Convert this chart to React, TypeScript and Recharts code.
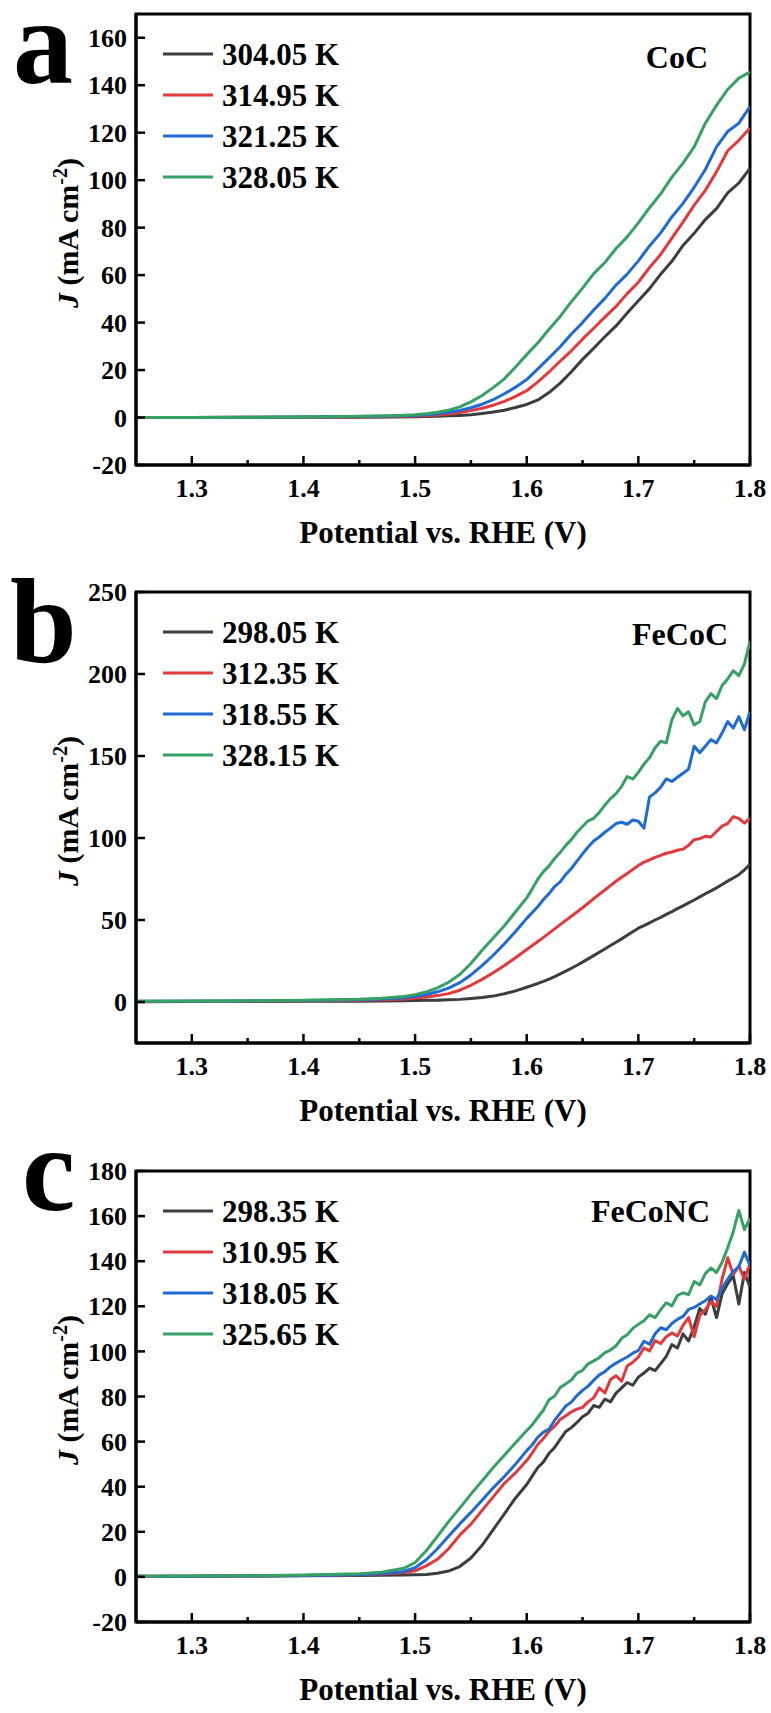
import React from "react";
import { LineChart, Line, XAxis, YAxis, ReferenceArea, Legend } from "recharts";

const W = 771;
const H = 578;
const FONT = "Liberation Serif, Tinos, Times New Roman, DejaVu Serif, Noto Serif, serif";
const COLORS = ["#3d3d3d", "#e23a3c", "#1f6bd3", "#37a064"];
const X_TICKS = [1.3, 1.35, 1.4, 1.45, 1.5, 1.55, 1.6, 1.65, 1.7, 1.75, 1.8];

// ---- panel a: CoC ----
const xA = [
  1.25, 1.3, 1.35, 1.4, 1.45, 1.48, 1.5, 1.51, 1.52, 1.53, 1.54, 1.55, 1.56, 1.57, 1.58, 1.59, 1.6,
  1.61, 1.62, 1.63, 1.64, 1.65, 1.66, 1.67, 1.68, 1.69, 1.7, 1.71, 1.72, 1.73, 1.74, 1.75, 1.76,
  1.77, 1.78, 1.79, 1.8,
];
const namesA = ["304.05 K", "314.95 K", "321.25 K", "328.05 K"];
const a304 = [
  0, 0, 0, 0.1, 0.1, 0.2, 0.3, 0.4, 0.5, 0.7, 0.9, 1.2, 1.7, 2.3, 3.1, 4.2, 5.5,
  7.4, 10.5, 14.5, 19.3, 24.5, 29.2, 34, 38.6, 44, 49.2, 54.3, 60.4, 65.8, 72.5, 77.6, 83.4,
  88, 94.6, 98.8, 105,
];
const a314 = [
  0, 0, 0.1, 0.1, 0.2, 0.4, 0.6, 0.8, 1.1, 1.5, 2.1, 2.9, 3.9, 5.2, 6.8, 8.9, 11.3,
  15, 19.2, 23.8, 28.1, 33, 37.6, 42.3, 46.8, 52.2, 57, 63.2, 68.7, 75.6, 82.3, 89.5, 95.7,
  103.5, 112.4, 116.8, 122,
];
const a321 = [
  0, 0, 0.1, 0.2, 0.4, 0.6, 0.9, 1.2, 1.6, 2.2, 3.0, 4.1, 5.6, 7.5, 10, 12.8, 16,
  20.5, 25.1, 29.8, 35.2, 40, 45.3, 50.2, 55.8, 60.4, 66, 72.3, 77.8, 84.5, 90.2, 97, 104.5,
  114, 120.5, 124, 131,
];
const a328 = [
  0, 0, 0.1, 0.2, 0.5, 0.8, 1.2, 1.6, 2.2, 3.1, 4.5, 6.6, 9.3, 12.6, 16.3, 21.3, 26.5,
  31.5, 37.2, 42.6, 48.8, 54.5, 60.6, 65.3, 71.2, 76.1, 82, 88.4, 94.2, 101.3, 107.2, 114, 124,
  131.5, 138.2, 143, 145.5,
];

// ---- panels b and c share the potential grid ----
const xBC = [
  1.25, 1.3, 1.35, 1.4, 1.45, 1.47, 1.49,
  1.5, 1.51, 1.52, 1.53, 1.54, 1.55, 1.56, 1.57, 1.58, 1.59, 1.6,
  1.605, 1.61, 1.615, 1.62, 1.625, 1.63, 1.635, 1.64, 1.645, 1.65,
  1.655, 1.66, 1.665, 1.67, 1.675, 1.68, 1.685, 1.69, 1.695, 1.7,
  1.705, 1.71, 1.715, 1.72, 1.725, 1.73, 1.735, 1.74, 1.745, 1.75,
  1.755, 1.76, 1.765, 1.77, 1.775, 1.78, 1.785, 1.79, 1.795, 1.8,
];

// panel b: FeCoC
const namesB = ["298.05 K", "312.35 K", "318.55 K", "328.15 K"];
const b298 = [
  0.2, 0.3, 0.3, 0.4, 0.5, 0.6, 0.8,
  0.9, 1.0, 1.1, 1.3, 1.6, 2.1, 2.7, 3.6, 5.0, 6.8, 9.0,
  10.1, 11.3, 12.6, 14, 15.5, 17.1, 18.8, 20.6, 22.4, 24.3,
  26.3, 28.3, 30.3, 32.3, 34.4, 36.4, 38.5, 40.7, 42.9, 45,
  46.6, 48.3, 50, 51.6, 53.4, 55.1, 56.9, 58.6, 60.4, 62.2,
  64.1, 66, 67.8, 69.6, 71.6, 73.7, 75.6, 77.6, 80.6, 84,
];
const b312 = [
  0.3, 0.4, 0.5, 0.7, 1.0, 1.3, 1.8,
  2.4, 3.0, 3.9, 5.1, 7.2, 10.2, 13.8, 17.8, 22.3, 27, 32,
  34.4, 36.9, 39.4, 42, 44.6, 47.2, 49.8, 52.3, 54.9, 57.5,
  60.2, 63, 65.7, 68.3, 71, 73.6, 76.1, 78.4, 80.8, 83.2,
  85.3, 86.6, 88.2, 89.4, 90.7, 91.5, 92.5, 93.2, 95.5, 99,
  99.6, 101, 100.6, 104, 107.2, 108.8, 113, 112, 109, 112,
];
const b318 = [
  0.4, 0.5, 0.6, 0.9, 1.4, 1.8, 2.6,
  3.5, 4.6, 6.2, 8.5, 11.8, 16.5, 22.2, 28.5, 35.5, 43, 51,
  54.6, 58.2, 62.5, 66.1, 70.4, 73.2, 77.8, 81.4, 85.9, 90.3,
  94.5, 98.2, 100.6, 103.5, 106, 108.8, 109.6, 108.4, 111, 110.2,
  106, 125, 127.5, 131, 136, 134.5, 137, 139.5, 142, 156,
  152, 156, 160, 158, 164, 171, 167, 174, 166, 177,
];
const b328 = [
  0.5, 0.6, 0.8, 1.1, 1.7, 2.3, 3.4,
  4.5, 6.2, 8.6, 12, 16.8, 23.5, 31.5, 39, 46.5, 55, 63.5,
  69, 75, 79.5, 83, 87.5, 91.2, 95.5, 99, 103.5, 107,
  110.5, 112, 115.6, 120, 124, 127, 131.5, 137.5, 136, 140,
  145, 149, 155, 159, 158, 172, 179, 174.5, 177, 169,
  171, 183, 188, 185, 193, 197, 202, 199, 206, 220,
];

// panel c: FeCoNC
const namesC = ["298.35 K", "310.95 K", "318.05 K", "325.65 K"];
const c298 = [
  0.3, 0.3, 0.4, 0.5, 0.6, 0.7, 0.8,
  0.9, 1.1, 1.6, 2.6, 4.6, 8.4, 14, 21, 28, 35, 41,
  44.8, 48.5, 51, 54.8, 57.4, 61, 64.5, 66.2, 68.5, 71,
  72.6, 76, 75.2, 78.8, 77.6, 81.5, 83.8, 86.2, 85, 88.6,
  90.4, 92.6, 91.5, 94.6, 97.8, 103, 101.5, 107.8, 104.6, 111,
  119, 116.5, 124, 115, 125.5, 130, 133.5, 121, 135, 128.6,
];
const c310 = [
  0.3, 0.3, 0.4, 0.6, 0.9, 1.3, 1.9,
  2.7, 4.9, 7.8, 12.5, 18.5, 23.4, 29.5, 35.5, 41.5, 46.2, 51.6,
  55, 58.8, 61.4, 64.6, 66.8, 69.8, 71.5, 73.2, 74.4, 75.2,
  77.6, 79.5, 83.8, 81.6, 87.5, 89.2, 86.8, 93.5, 95.2, 97.5,
  101.5, 100.2, 104.8, 103.5, 106.5, 108.2, 106.8, 111.5, 115, 106.5,
  116, 118.5, 122, 120, 132, 141.5, 134, 138, 132, 139,
];
const c318 = [
  0.2, 0.3, 0.4, 0.6, 1.0, 1.5, 2.4,
  4.1, 7.6, 12.5, 18, 23.5, 28.6, 34, 39.5, 44.5, 50, 56,
  58.6, 62, 64.2, 65.5, 69.5, 72.6, 75.8, 77.5, 80.4, 82.7,
  84.6, 87.2, 89.6, 91, 93.2, 94.8, 96.2, 97.5, 99.2, 100.4,
  104.5, 103.2, 107.8, 110.5, 109.6, 112.4, 114.2, 115.5, 118.6, 119.5,
  121, 122.5, 124.5, 123, 128, 132, 135.5, 137.5, 144, 138,
];
const c325 = [
  0.3, 0.4, 0.5, 0.8, 1.4, 2.1, 3.8,
  6.4, 11.6, 18, 24.5, 30.5, 36.7, 42.5, 48.5, 54, 59.5, 64.9,
  67.5, 70.8, 74, 78.6, 80.2, 84, 85.6, 87.3, 90.4, 91.6,
  94.5, 95.8, 97.2, 99.5, 100.6, 102.5, 105.8, 107.4, 110.2, 112,
  113.6, 116.2, 115, 118.5, 121.6, 120.2, 124.8, 126, 125.2, 131,
  129.5, 134.5, 137, 135, 139.5, 146, 153, 162.5, 154, 159,
];

function XTick(props: any) {
  const { x, y, payload } = props;
  const major = Math.round(payload.value * 100) % 10 === 0;
  return (
    <g>
      <line x1={x} x2={x} y1={y} y2={y - (major ? 9 : 5)} stroke="#000" strokeWidth={2.5} />
      {major && (
        <text x={x} y={y + 32} textAnchor="middle" style={{ fontFamily: FONT }} fontWeight={700} fontSize={26} fill="#000">
          {payload.value.toFixed(1)}
        </text>
      )}
    </g>
  );
}

function YTick(props: any) {
  const { x, y, payload } = props;
  return (
    <g>
      <line x1={x} x2={x + 9} y1={y} y2={y} stroke="#000" strokeWidth={2.5} />
      <text x={x - 9} y={y} dy="0.35em" textAnchor="end" style={{ fontFamily: FONT }} fontWeight={700} fontSize={26} fill="#000">
        {payload.value}
      </text>
    </g>
  );
}

function XTitle(props: any) {
  const vb = props.viewBox && props.viewBox.width ? props.viewBox : { x: 136, y: 465, width: 614 };
  return (
    <text x={vb.x + vb.width / 2} y={vb.y + 78} textAnchor="middle" style={{ fontFamily: FONT }} fontWeight={700} fontSize={31} fill="#000">
      Potential vs. RHE (V)
    </text>
  );
}

function YTitle(props: any) {
  const vb = props.viewBox && props.viewBox.height ? props.viewBox : { x: 0, y: 14, height: 451 };
  const cx = 78;
  const cy = vb.y + 219;
  return (
    <text x={cx} y={cy} transform={`rotate(-90 ${cx} ${cy})`} textAnchor="middle" style={{ fontFamily: FONT }} fontWeight={700} fontSize={30} fill="#000">
      <tspan fontStyle="italic">J</tspan>
      <tspan> (mA cm</tspan>
      <tspan dy={-11} fontSize={20}>-2</tspan>
      <tspan dy={11}>)</tspan>
    </text>
  );
}

function LegendBox(props: any) {
  const items = props.payload || [];
  return (
    <div style={{ fontFamily: FONT, fontWeight: 700, fontSize: 31, color: "#000" }}>
      {items.map((p: any, k: number) => (
        <div key={k} style={{ display: "flex", alignItems: "center", height: 41, whiteSpace: "nowrap" }}>
          <svg width={50} height={6}>
            <line x1={0} x2={50} y1={3} y2={3} stroke={p.color} strokeWidth={3} />
          </svg>
          <span style={{ marginLeft: 9, lineHeight: "41px" }}>{p.value}</span>
        </div>
      ))}
    </div>
  );
}

function Panel(props: any) {
  const { top, xs, series, names, yDomain, yTicks, letter, letterX, letterY, sample, sampleX, sampleY } = props;
  const data = xs.map((x: number, i: number) => {
    const row: any = { x };
    series.forEach((s: number[], k: number) => {
      row["s" + k] = s[i];
    });
    return row;
  });
  return (
    <div style={{ position: "absolute", left: 0, top, width: W, height: H }}>
      <LineChart width={W} height={H} data={data} margin={{ top: 14, right: 21, bottom: 0, left: 0 }}>
        <XAxis
          dataKey="x"
          type="number"
          domain={[1.25, 1.8]}
          ticks={X_TICKS}
          interval={0}
          allowDataOverflow
          height={113}
          tickSize={0}
          tickMargin={0}
          tickLine={false}
          tick={<XTick />}
          axisLine={{ stroke: "#000", strokeWidth: 3 }}
          label={<XTitle />}
        />
        <YAxis
          type="number"
          domain={yDomain}
          ticks={yTicks}
          interval={0}
          allowDataOverflow
          width={136}
          tickSize={0}
          tickMargin={0}
          tickLine={false}
          tick={<YTick />}
          axisLine={{ stroke: "#000", strokeWidth: 3 }}
          label={<YTitle />}
        />
        <ReferenceArea
          x1={1.25}
          x2={1.8}
          y1={yDomain[0]}
          y2={yDomain[1]}
          fill="none"
          fillOpacity={0}
          stroke="#000"
          strokeWidth={3}
          ifOverflow="visible"
        />
        <Legend
          layout="vertical"
          align="center"
          verticalAlign="middle"
          content={<LegendBox />}
          wrapperStyle={{ left: 163, top: 33.5, width: 230, height: 170 }}
        />
        {series.map((s: number[], k: number) => (
          <Line
            key={k}
            type="linear"
            dataKey={"s" + k}
            name={names[k]}
            stroke={COLORS[k]}
            strokeWidth={3}
            strokeLinejoin="round"
            dot={false}
            activeDot={false}
            isAnimationActive={false}
          />
        ))}
      </LineChart>
      <svg width={W} height={H} style={{ position: "absolute", left: 0, top: 0, pointerEvents: "none", overflow: "visible" }}>
        <text x={letterX} y={letterY} style={{ fontFamily: FONT }} fontWeight={900} fontSize={120} fill="#000">
          {letter}
        </text>
        <text x={sampleX} y={sampleY} textAnchor="end" style={{ fontFamily: FONT }} fontWeight={700} fontSize={32} fill="#000">
          {sample}
        </text>
      </svg>
    </div>
  );
}

export default function App() {
  return (
    <div style={{ position: "absolute", left: 0, top: 0, width: W, height: 1713, background: "#fff", overflow: "hidden", fontFamily: FONT }}>
      <Panel
        top={0}
        xs={xA}
        series={[a304, a314, a321, a328]}
        names={namesA}
        yDomain={[-20, 170]}
        yTicks={[-20, 0, 20, 40, 60, 80, 100, 120, 140, 160]}
        letter="a"
        letterX={13}
        letterY={83}
        sample="CoC"
        sampleX={708}
        sampleY={68}
      />
      <Panel
        top={578}
        xs={xBC}
        series={[b298, b312, b318, b328]}
        names={namesB}
        yDomain={[-25, 250]}
        yTicks={[0, 50, 100, 150, 200, 250]}
        letter="b"
        letterX={10}
        letterY={84}
        sample="FeCoC"
        sampleX={728}
        sampleY={67}
      />
      <Panel
        top={1157}
        xs={xBC}
        series={[c298, c310, c318, c325]}
        names={namesC}
        yDomain={[-20, 180]}
        yTicks={[-20, 0, 20, 40, 60, 80, 100, 120, 140, 160, 180]}
        letter="c"
        letterX={22}
        letterY={53}
        sample="FeCoNC"
        sampleX={710}
        sampleY={65}
      />
    </div>
  );
}
